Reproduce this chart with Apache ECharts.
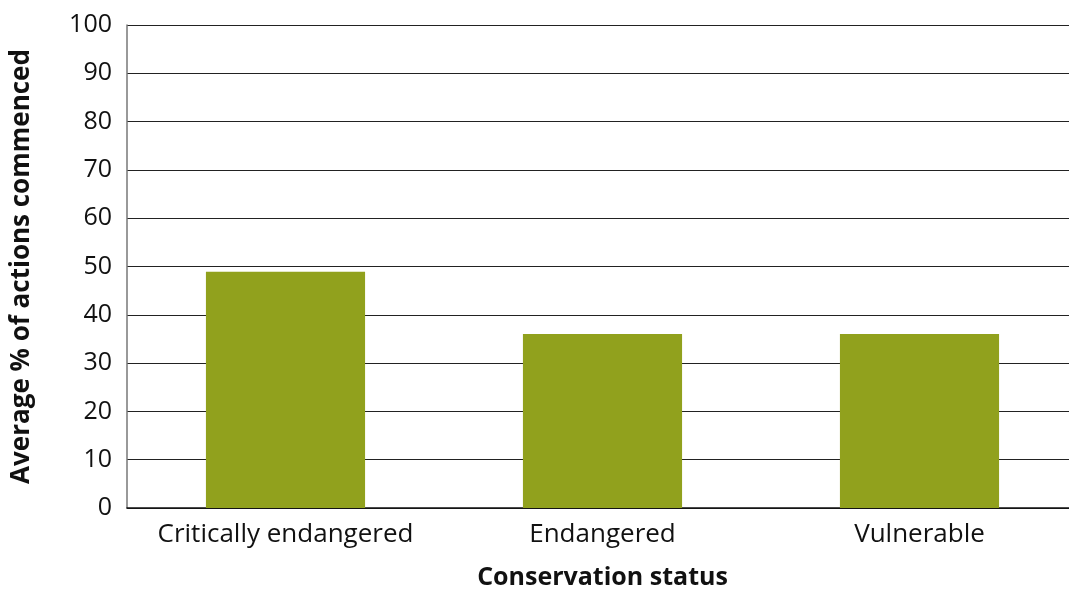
<!DOCTYPE html>
<html>
<head>
<meta charset="utf-8">
<script src="https://cdn.jsdelivr.net/npm/echarts@6/dist/echarts.min.js"></script>
<style>
  html, body { margin: 0; padding: 0; background: #fff; }
  #chart { width: 1069px; height: 592px; }
</style>
</head>
<body>
<div id="chart"></div>
<script>
// Conservation status categories and the average share of recovery actions commenced
const categories = ['Critically endangered', 'Endangered', 'Vulnerable'];
const actionsCommenced = [48.9, 36, 36];
const yTicks = { min: 0, max: 100, interval: 10 };

const FONT = '"Open Sans", "Noto Sans", sans-serif';

const chart = echarts.init(document.getElementById('chart'));
chart.setOption({
  animation: false,
  // the plot runs slightly past the right edge of the canvas
  grid: { left: 127, top: 25, width: 951, height: 483, containLabel: false, outerBoundsMode: 'none' },
  xAxis: {
    type: 'category',
    data: categories,
    name: 'Conservation status',
    nameLocation: 'middle',
    nameGap: 57,
    nameTextStyle: { fontFamily: FONT, fontSize: 25, fontWeight: 'bold', color: '#111' },
    axisLine: { lineStyle: { color: '#111', width: 1.5 } },
    axisTick: { show: false },
    axisLabel: { interval: 0, fontFamily: FONT, fontSize: 26, color: '#111', margin: 14 }
  },
  yAxis: {
    type: 'value',
    min: yTicks.min,
    max: yTicks.max,
    interval: yTicks.interval,
    name: 'Average % of actions commenced',
    nameLocation: 'middle',
    nameGap: 92,
    nameTextStyle: { fontFamily: FONT, fontSize: 26, fontWeight: 'bold', color: '#111' },
    axisLine: { show: true, lineStyle: { color: '#777', width: 1.5 } },
    axisTick: { show: false },
    axisLabel: { fontFamily: FONT, fontSize: 25, color: '#111', margin: 15 },
    splitLine: { show: true, lineStyle: { color: '#222', width: 1.2 } }
  },
  series: [{
    type: 'bar',
    data: actionsCommenced,
    barWidth: '50.2%',
    itemStyle: { color: '#91A11D' }
  }]
});
</script>
</body>
</html>
